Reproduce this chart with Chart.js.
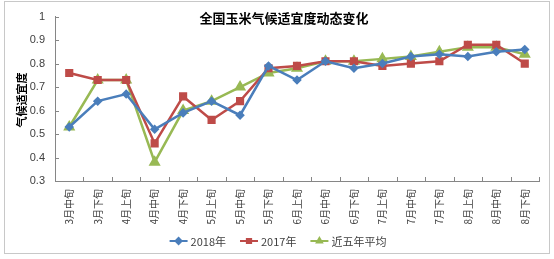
<!DOCTYPE html>
<html>
<head>
<meta charset="utf-8">
<script src="https://cdn.jsdelivr.net/npm/chart.js@4.4.1/dist/chart.umd.min.js"></script>
<style>
  html, body { margin: 0; padding: 0; background: #fff; }
</style>
</head>
<body>
<canvas id="chart" width="554" height="259"></canvas>
<script>
const categories = ['3月中旬', '3月下旬', '4月上旬', '4月中旬', '4月下旬', '5月上旬', '5月中旬', '5月下旬',
    '6月上旬', '6月中旬', '6月下旬', '7月上旬', '7月中旬', '7月下旬', '8月上旬', '8月中旬', '8月下旬'];
const values2018 = [0.53, 0.64, 0.67, 0.52, 0.59, 0.64, 0.58, 0.79, 0.73, 0.81, 0.78, 0.80, 0.83, 0.84, 0.83, 0.85, 0.86];
const values2017 = [0.76, 0.73, 0.73, 0.46, 0.66, 0.56, 0.64, 0.78, 0.79, 0.81, 0.81, 0.79, 0.80, 0.81, 0.88, 0.88, 0.80];
const valuesAvg = [0.53, 0.73, 0.73, 0.38, 0.60, 0.64, 0.70, 0.76, 0.78, 0.81, 0.81, 0.82, 0.83, 0.85, 0.87, 0.87, 0.84];
const seriesNames = ['2018年', '2017年', '近五年平均'];
const chartTitle = '全国玉米气候适宜度动态变化';
const yTitle = '气候适宜度';

const BLUE = '#4a7ebb', RED = '#be4b48', GREEN = '#98b954';
const AXIS = '#868686';

// frame, title, y title, inward ticks, legend
const decorPlugin = {
    id: 'decor',
    beforeDraw(chart) {
        const ctx = chart.ctx;
        ctx.save();
        ctx.fillStyle = '#fff';
        ctx.fillRect(0, 0, chart.width, chart.height);
        ctx.strokeStyle = '#c8c8c8';
        ctx.lineWidth = 1;
        ctx.strokeRect(4.5, 1.5, 545, 252);
        ctx.restore();
    },
    afterDraw(chart) {
        const ctx = chart.ctx;
        const xs = chart.scales.x, ys = chart.scales.y;
        const area = chart.chartArea;
        ctx.save();
        // inward tick marks
        ctx.strokeStyle = AXIS;
        ctx.lineWidth = 1;
        ctx.beginPath();
        const step = xs.getPixelForValue(1) - xs.getPixelForValue(0);
        for (let i = 0; i <= categories.length; i++) {
            const x = Math.round(xs.getPixelForValue(0) - step / 2 + i * step) + 0.5;
            ctx.moveTo(x, area.bottom);
            ctx.lineTo(x, area.bottom - 4);
        }
        ys.ticks.forEach(t => {
            const y = Math.round(ys.getPixelForValue(t.value)) + 0.5;
            ctx.moveTo(area.left, y);
            ctx.lineTo(area.left + 4, y);
        });
        ctx.stroke();

        // title
        ctx.fillStyle = '#000';
        ctx.font = "bold 13px 'Noto Sans CJK SC'";
        ctx.textAlign = 'center';
        ctx.textBaseline = 'middle';
        ctx.fillText(chartTitle, 284, 18);

        // y axis title
        ctx.save();
        ctx.translate(22, 100);
        ctx.rotate(-Math.PI / 2);
        ctx.font = "bold 11px 'Noto Sans CJK SC'";
        ctx.fillText(yTitle, 0, 0);
        ctx.restore();

        // legend: line with marker
        ctx.font = "11px 'Noto Sans CJK SC'";
        ctx.textAlign = 'left';
        const ly = 241;
        const gap = 14, lineLen = 18;
        const widths = seriesNames.map(n => lineLen + 3 + ctx.measureText(n).width);
        const total = widths.reduce((a, b) => a + b, 0) + gap * (widths.length - 1);
        let lx = 278 - total / 2;
        chart.data.datasets.forEach((ds, i) => {
            ctx.strokeStyle = ds.borderColor;
            ctx.fillStyle = ds.borderColor;
            ctx.lineWidth = 2;
            ctx.beginPath();
            ctx.moveTo(lx, ly);
            ctx.lineTo(lx + lineLen, ly);
            ctx.stroke();
            Chart.helpers.drawPoint(ctx, {
                pointStyle: ds.pointStyle, radius: 3, rotation: 0, borderWidth: 1
            }, lx + lineLen / 2, ly);
            ctx.fillStyle = '#404040';
            ctx.fillText(ds.label, lx + lineLen + 3, ly + 1);
            lx += widths[i] + gap;
        });
        ctx.restore();
    }
};

const makeSet = (label, data, color, style, radius) => ({
    label: label,
    data: data,
    borderColor: color,
    backgroundColor: color,
    pointBackgroundColor: color,
    pointBorderColor: color,
    pointStyle: style,
    pointRadius: radius,
    borderWidth: 2.5,
    tension: 0
});

new Chart(document.getElementById('chart'), {
    type: 'line',
    data: {
        labels: categories,
        datasets: [
            makeSet(seriesNames[0], values2018, BLUE, 'rectRot', 3),
            makeSet(seriesNames[1], values2017, RED, 'rect', 4),
            makeSet(seriesNames[2], valuesAvg, GREEN, 'triangle', 4.5)
        ]
    },
    options: {
        responsive: false,
        animation: false,
        devicePixelRatio: 1,
        layout: { padding: { top: 14, right: 15, bottom: 35, left: 0 } },
        plugins: {
            legend: { display: false },
            tooltip: { enabled: false }
        },
        scales: {
            x: {
                offset: true,
                grid: { display: true, drawOnChartArea: false, drawTicks: false, offset: true },
                border: { color: AXIS, width: 1 },
                ticks: {
                    autoSkip: false,
                    minRotation: 90,
                    maxRotation: 90,
                    padding: 8,
                    color: '#404040',
                    font: { family: "'Noto Sans CJK SC'", size: 10 }
                },
                afterFit(scale) { scale.height = 43; }
            },
            y: {
                min: 0.3,
                max: 1,
                grid: { drawOnChartArea: false, drawTicks: false },
                border: { color: AXIS, width: 1 },
                ticks: {
                    stepSize: 0.1,
                    padding: 10,
                    color: '#404040',
                    font: { family: "'Liberation Sans'", size: 11 },
                    callback: v => String(Number(v.toFixed(1)))
                },
                afterFit(scale) { scale.width = 55; }
            }
        }
    },
    plugins: [decorPlugin]
});
</script>
</body>
</html>
